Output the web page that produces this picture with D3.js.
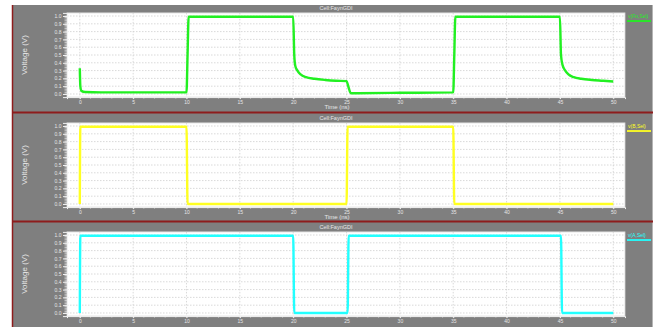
<!DOCTYPE html>
<html>
<head>
<meta charset="utf-8">
<script src="https://cdn.jsdelivr.net/npm/d3@7"></script>
<style>
  html, body { margin: 0; padding: 0; background: #fff; }
  svg { display: block; font-family: "Liberation Sans", Arial, sans-serif; }
</style>
</head>
<body>
<svg id="chart" width="667" height="329"></svg>
<script>
// Transient simulation of a GDI XOR cell: output and the two inputs
const cellTitle = "Cell:FaynGDI";
const xTicks = [0, 5, 10, 15, 20, 25, 30, 35, 40, 45, 50];
const yTicks = [0.0, 0.1, 0.2, 0.3, 0.4, 0.5, 0.6, 0.7, 0.8, 0.9, 1.0];
const seriesNames = ["v(Fo,Sel)", "v(B,Sel)", "v(A,Sel)"];
const seriesColors = ["#22f022", "#ffff22", "#22ffff"];

// Output node (time in ns, volts)
const outTime = [0, 0.05, 0.15, 0.5, 2, 10, 10.1, 10.2, 20, 20.1, 20.2, 20.4, 20.7, 21.2, 22, 23, 24, 25,
  25.2, 25.4, 30, 35, 35.1, 35.2, 45, 45.1, 45.25, 45.5, 45.8, 46.3, 47, 48, 49, 50];
const outVolt = [0.33, 0.1, 0.04, 0.025, 0.02, 0.02, 0.5, 0.99, 0.99, 0.5, 0.36, 0.3, 0.25, 0.215, 0.195, 0.18, 0.17, 0.165,
  0.08, 0.01, 0.015, 0.02, 0.5, 0.99, 0.99, 0.5, 0.37, 0.3, 0.25, 0.215, 0.195, 0.18, 0.17, 0.16];

// Input B
const bTime = [0, 0.05, 10, 10.1, 25, 25.1, 35, 35.1, 50];
const bVolt = [0, 0.99, 0.99, 0, 0, 0.99, 0.99, 0, 0];

// Input A
const aTime = [0, 0.05, 20, 20.1, 25.1, 25.2, 45.1, 45.2, 50];
const aVolt = [0, 0.99, 0.99, 0, 0, 0.99, 0.99, 0, 0];

const panels = [
  { top: 3, time: outTime, volt: outVolt, name: seriesNames[0], color: seriesColors[0], showTime: true },
  { top: 113, time: bTime, volt: bVolt, name: seriesNames[1], color: seriesColors[1], showTime: true },
  { top: 222, time: aTime, volt: aVolt, name: seriesNames[2], color: seriesColors[2], showTime: false }
];

const svg = d3.select("#chart");
const bg = "#7f7f7f";
const textCol = "#e6e6e6";
const plotL = 67, plotR = 625;

// Window background
svg.append("rect").attr("x", 12).attr("y", 5).attr("width", 641).attr("height", 322).attr("fill", bg);
svg.append("line").attr("x1", 652.5).attr("x2", 652.5).attr("y1", 5).attr("y2", 327)
  .attr("stroke", "#b5b5b5").attr("stroke-width", 1);

const x = d3.scaleLinear().domain([-1.2, 51.1]).range([plotL, plotR]);

panels.forEach((p, i) => {
  const T = p.top;
  const y = d3.scaleLinear().domain([-0.04, 1.04]).range([T + 94.1, T + 9.9]);
  const g = svg.append("g");
  const yTop = y(1.04), yBot = y(-0.04);

  // Plot area
  g.append("rect").attr("x", plotL).attr("y", yTop).attr("width", plotR - plotL).attr("height", yBot - yTop)
    .attr("fill", "#ffffff").attr("stroke", "#d8d8d8").attr("stroke-width", 0.8);

  // Dotted grid
  g.selectAll(".hg").data(yTicks).join("line")
    .attr("x1", plotL).attr("x2", plotR).attr("y1", d => y(d)).attr("y2", d => y(d))
    .attr("stroke", "#cfcfcf").attr("stroke-width", 0.8).attr("stroke-dasharray", "1.5,1.5");
  g.selectAll(".vg").data(xTicks).join("line")
    .attr("x1", d => x(d)).attr("x2", d => x(d)).attr("y1", yTop).attr("y2", yBot)
    .attr("stroke", "#cfcfcf").attr("stroke-width", 0.8).attr("stroke-dasharray", "1.5,1.5");

  // Y axis with minor ticks
  const yMinor = d3.range(0, 1.0001, 0.02);
  g.selectAll(".ym").data(yMinor).join("line")
    .attr("x1", plotL - 2.5).attr("x2", plotL).attr("y1", d => y(d)).attr("y2", d => y(d))
    .attr("stroke", "#f2f2f2").attr("stroke-width", 0.6);
  const yAxis = d3.axisLeft(y).tickValues(yTicks).tickFormat(d3.format(".1f")).tickSize(4).tickPadding(1.5);
  const ya = g.append("g").attr("transform", `translate(${plotL},0)`).call(yAxis);
  ya.select(".domain").attr("stroke", "#f2f2f2");
  ya.selectAll(".tick line").attr("stroke", "#f2f2f2");
  ya.selectAll("text").attr("fill", textCol).attr("font-size", 5);

  // X axis with minor ticks
  const xMinor = d3.range(0, 50.001, 1);
  g.selectAll(".xm").data(xMinor).join("line")
    .attr("x1", d => x(d)).attr("x2", d => x(d)).attr("y1", yBot).attr("y2", yBot + 1.5)
    .attr("stroke", "#f2f2f2").attr("stroke-width", 0.6);
  const xAxis = d3.axisBottom(x).tickValues(xTicks).tickFormat(d3.format("d")).tickSize(2).tickPadding(1);
  const xa = g.append("g").attr("transform", `translate(0,${yBot})`).call(xAxis);
  xa.select(".domain").attr("stroke", "#f2f2f2");
  xa.selectAll(".tick line").attr("stroke", "#f2f2f2");
  xa.selectAll("text").attr("fill", textCol).attr("font-size", 5);

  // Titles
  g.append("text").attr("x", 336).attr("y", T + 6).attr("text-anchor", "middle")
    .attr("dominant-baseline", "middle").attr("fill", textCol).attr("font-size", 5.5).text(cellTitle);
  if (p.showTime) {
    g.append("text").attr("x", 337).attr("y", T + 104).attr("text-anchor", "middle")
      .attr("dominant-baseline", "middle").attr("fill", textCol).attr("font-size", 6).text("Time (ns)");
  }
  g.append("text").attr("transform", `translate(25,${(y(1) + y(0)) / 2}) rotate(-90)`)
    .attr("text-anchor", "middle").attr("dominant-baseline", "middle")
    .attr("fill", textCol).attr("font-size", 8).text("Voltage (V)");

  // Waveform
  const pts = p.time.map((t, k) => [t, p.volt[k]]);
  g.append("path").datum(pts)
    .attr("d", d3.line().x(d => x(d[0])).y(d => y(d[1])).curve(d3.curveMonotoneX))
    .attr("fill", "none").attr("stroke", p.color).attr("stroke-width", 2.4)
    .attr("stroke-linejoin", "round");

  // Legend entry
  g.append("text").attr("x", 628).attr("y", y(1) + 0.5).attr("dominant-baseline", "middle")
    .attr("fill", p.color).attr("font-size", 5).text(p.name);
  g.append("line").attr("x1", 627).attr("x2", 651).attr("y1", y(1) + 5).attr("y2", y(1) + 5)
    .attr("stroke", p.color).attr("stroke-width", 1.8);

  // Separator below each panel except the last
  if (i < panels.length - 1) {
    const sy = panels[i + 1].top - 0.5;
    svg.append("line").attr("x1", 12).attr("x2", 653).attr("y1", sy).attr("y2", sy)
      .attr("stroke", "#8e1c1c").attr("stroke-width", 2);
  }
});

// Left window edge
svg.append("line").attr("x1", 12.5).attr("x2", 12.5).attr("y1", 5).attr("y2", 327)
  .attr("stroke", "#8e1c1c").attr("stroke-width", 1.5);
</script>
</body>
</html>
